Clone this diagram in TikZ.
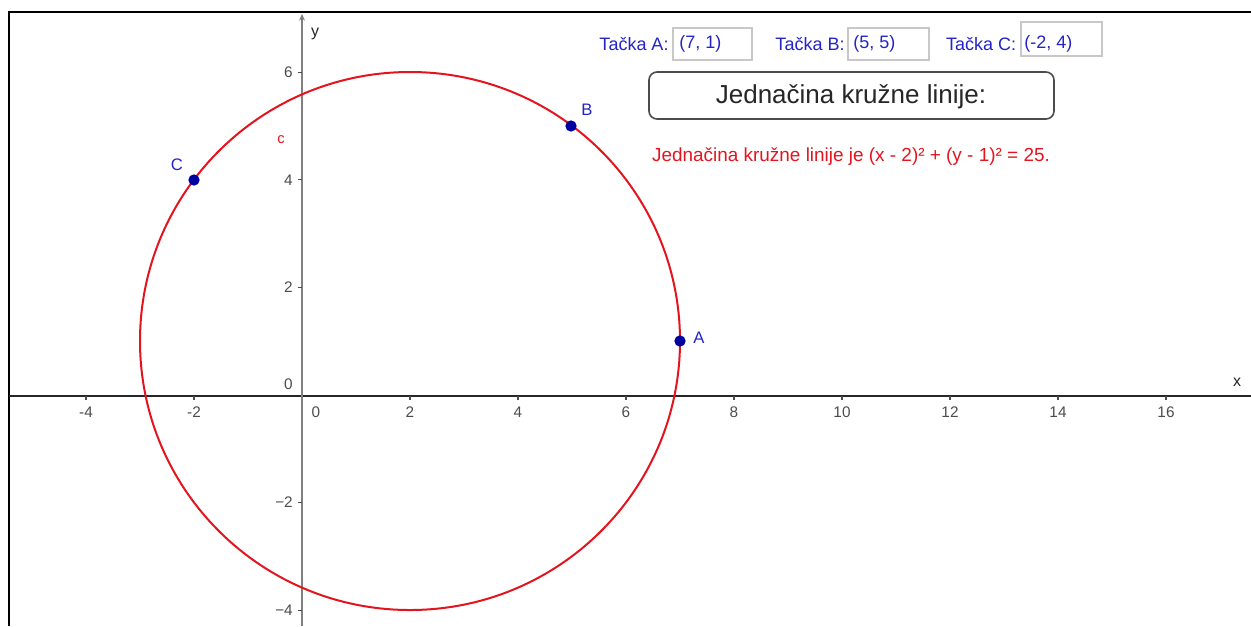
\documentclass[tikz,border=0pt]{standalone}
\usepackage{fontspec}
\setmainfont{Liberation Sans}
\usetikzlibrary{arrows.meta}
\definecolor{ggred}{RGB}{228,20,30}
\definecolor{ggblue}{RGB}{0,0,160}
\definecolor{lblblue}{RGB}{35,35,200}
\definecolor{boxgray}{RGB}{200,200,200}
\begin{document}
\begin{tikzpicture}[x=0.75pt,y=-0.75pt,
  frame/.style={line width=1.5pt,black},
  xaxis/.style={line width=1.1pt,black!85},
  yaxis/.style={line width=2.1pt,black!50},
  tickmark/.style={line width=0.8pt,black!70},
  ticklab/.style={font=\fontsize{11.5}{13}\selectfont,text=black!70,inner sep=0pt},
  axlab/.style={font=\fontsize{12}{13}\selectfont,text=black!85,inner sep=0pt},
  ptdot/.style={circle,fill=ggblue,inner sep=0pt,minimum size=8.5pt},
  ptlab/.style={font=\fontsize{12.5}{14}\selectfont,text=lblblue,inner sep=0pt},
  inlab/.style={font=\fontsize{13.5}{16}\selectfont,text=lblblue,inner sep=0pt},
  inbox/.style={draw=boxgray,line width=0.8pt},
  btn/.style={draw=black!70,line width=1.2pt,rounded corners=6pt,fill=white}
]
\useasboundingbox (0,0) rectangle (1251,626);
% frame
\draw[frame] (9,626) -- (9,12) -- (1251,12);
% axes
\coordinate (xs) at (9,396);
\coordinate (xe) at (1251,396);
\coordinate (ys) at (302,626);
\coordinate (ye) at (302,14);
\draw[xaxis] (xs) -- (xe);
\draw[yaxis,-{Stealth[length=5pt,width=4.5pt]}] (ys) -- (ye);
% x ticks
\foreach \k in {-4,-2,2,4,6,8,10,12,14,16}{
  \draw[tickmark] (302+54*\k,396) -- ++(0,4);
  \node[ticklab] at (302+54*\k,412) {\k};
}
\node[ticklab] (x0) at (316,412) {0};
% y ticks
\foreach \k/\l in {6/6,4/4,2/2,-2/{−2},-4/{−4}}{
  \draw[tickmark] (302,395-53.8*\k) -- ++(-4,0);
  \node[ticklab,anchor=east] at (293,395-53.8*\k) {\l};
}
\node[ticklab,anchor=east] (y0) at (293,384) {0};
\node[axlab] (xl) at (1237,382) {x};
\node[axlab] (yl) at (315,34) {y};
% circle
\coordinate (M) at (410,341);
\draw[ggred,line width=1.5pt] (M) ellipse [x radius=270, y radius=269];
\node[font=\fontsize{11}{13}\selectfont,text=ggred,inner sep=0pt] (cl) at (281,140) {c};
% points
\node[ptdot] (A) at (680,341) {};
\node[ptdot] (B) at (571,126) {};
\node[ptdot] (C) at (194,180) {};
\node[ptlab] (Al) at (699,338) {A};
\node[ptlab] (Bl) at (587,110) {B};
\node[ptlab] (Cl) at (177,165) {C};
% input boxes
\node[inlab] (ta) at (634,44) {Tačka A:};
\draw[inbox] (673,28) rectangle (752,60);
\node[inlab,anchor=west] (va) at (679,44) {(7, 1)};
\node[inlab] (tb) at (810,44) {Tačka B:};
\draw[inbox] (848,28) rectangle (929,60);
\node[inlab,anchor=west] (vb) at (853,44) {(5, 5)};
\node[inlab] (tc) at (981,44) {Tačka C:};
\draw[inbox] (1021,22) rectangle (1102,56);
\node[inlab,anchor=west] (vc) at (1024,44) {(-2, 4)};
% button
\draw[btn] (649,72) rectangle (1054,119);
\node[font=\fontsize{19.5}{22}\selectfont,text=black!85,inner sep=0pt] (bt) at (851,97) {Jednačina kružne linije:};
% result text
\node[font=\fontsize{14.2}{16}\selectfont,text=ggred,inner sep=0pt] (res) at (851,157) {Jednačina kružne linije je (x - 2)² + (y - 1)² = 25.};
\end{tikzpicture}
\end{document}
